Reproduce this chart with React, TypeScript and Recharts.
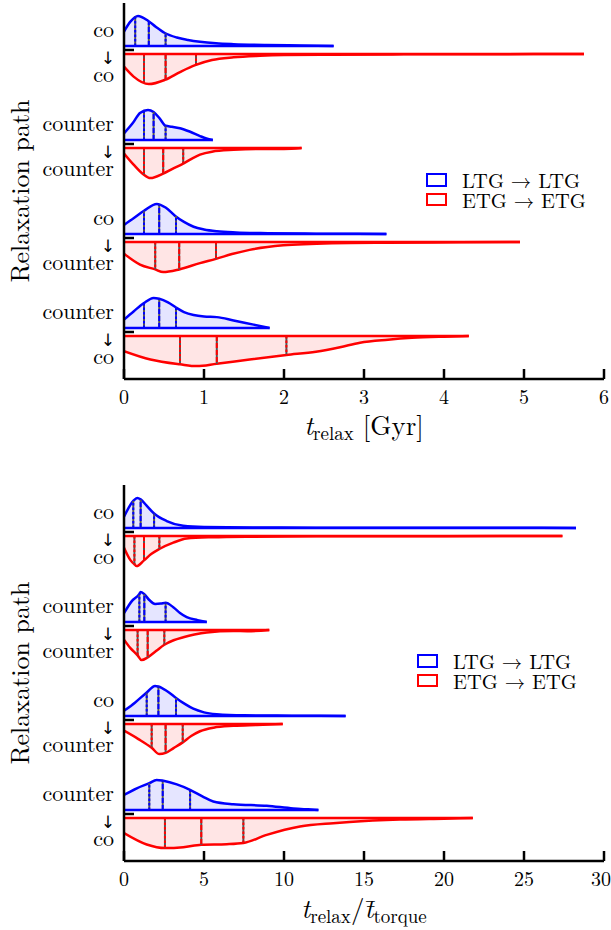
import React from "react";
import { ComposedChart, Area, XAxis, YAxis, ReferenceLine, Legend } from "recharts";

// relaxation paths (from, to), top row first
const paths = [
  ["co", "co"],
  ["counter", "counter"],
  ["co", "counter"],
  ["counter", "co"],
];
const rowTicks = [0, 1, 2, 3];
const gyrTicks = [0, 1, 2, 3, 4, 5, 6];
const ratioTicks = [0, 5, 10, 15, 20, 25, 30];

// top panel: t_relax [Gyr], relative density (peak = 1) per row
const gyrLtgT = [
  [0, 0.08, 0.175, 0.3, 0.4, 0.51, 0.66, 0.8, 0.95, 1.15, 1.37, 1.78, 2.2, 2.62],
  [0, 0.11, 0.2, 0.3, 0.37, 0.45, 0.52, 0.6, 0.7, 0.82, 0.95, 1.03, 1.11],
  [0, 0.12, 0.25, 0.41, 0.52, 0.64, 0.75, 0.87, 1.0, 1.16, 1.4, 1.8, 2.4, 3.28],
  [0, 0.12, 0.25, 0.37, 0.44, 0.55, 0.65, 0.75, 0.87, 1.0, 1.16, 1.37, 1.62, 1.82],
];
const gyrLtgD = [
  [0.48, 0.81, 1.0, 0.84, 0.63, 0.43, 0.28, 0.2, 0.14, 0.09, 0.06, 0.03, 0.015, 0],
  [0.22, 0.56, 0.9, 1.0, 0.93, 0.7, 0.47, 0.44, 0.39, 0.28, 0.13, 0.05, 0],
  [0.3, 0.52, 0.77, 1.0, 0.88, 0.6, 0.4, 0.24, 0.15, 0.09, 0.05, 0.025, 0.01, 0],
  [0.28, 0.55, 0.83, 1.0, 0.97, 0.85, 0.68, 0.53, 0.43, 0.38, 0.36, 0.25, 0.11, 0],
];
const gyrEtgT = [
  [0, 0.12, 0.31, 0.51, 0.7, 0.89, 1.1, 1.37, 1.7, 2.0, 2.6, 3.5, 4.5, 5.75],
  [0, 0.12, 0.24, 0.33, 0.49, 0.6, 0.74, 0.85, 0.95, 1.1, 1.37, 1.7, 2.0, 2.22],
  [0, 0.2, 0.39, 0.49, 0.69, 0.95, 1.15, 1.35, 1.57, 1.99, 2.6, 3.3, 4.2, 4.95],
  [0, 0.33, 0.7, 0.91, 1.16, 1.57, 2.03, 2.4, 2.7, 2.95, 3.3, 3.6, 4.0, 4.31],
];
const gyrEtgD = [
  [0.42, 0.75, 1.0, 0.86, 0.6, 0.37, 0.2, 0.11, 0.06, 0.035, 0.02, 0.01, 0.005, 0],
  [0.18, 0.55, 0.87, 1.0, 0.85, 0.7, 0.52, 0.35, 0.22, 0.12, 0.06, 0.03, 0.03, 0],
  [0.39, 0.75, 0.91, 1.0, 0.91, 0.7, 0.56, 0.4, 0.26, 0.11, 0.04, 0.02, 0.01, 0],
  [0.5, 0.78, 0.94, 1.0, 0.92, 0.78, 0.63, 0.52, 0.37, 0.22, 0.12, 0.06, 0.02, 0],
];
// quartiles [value, density there]
const gyrLtgQ = [
  [[0.14, 0.98], [0.31, 0.83], [0.52, 0.42]],
  [[0.25, 0.97], [0.37, 0.93], [0.52, 0.47]],
  [[0.25, 0.77], [0.44, 0.98], [0.65, 0.6]],
  [[0.25, 0.83], [0.44, 0.97], [0.65, 0.68]],
];
const gyrEtgQ = [
  [[0.25, 0.95], [0.52, 0.85], [0.9, 0.37]],
  [[0.25, 0.87], [0.49, 0.85], [0.74, 0.52]],
  [[0.39, 0.91], [0.69, 0.91], [1.15, 0.56]],
  [[0.7, 0.94], [1.16, 0.92], [2.03, 0.63]],
];

// bottom panel: t_relax / mean t_torque
const ratioLtgT = [
  [0, 0.58, 0.83, 1.04, 1.4, 1.88, 2.67, 3.7, 5, 8, 12, 18, 24, 28.25],
  [0, 0.5, 0.96, 1.04, 1.27, 1.6, 1.94, 2.3, 2.6, 3.08, 3.5, 3.92, 4.6, 5.17],
  [0, 0.7, 1.42, 1.94, 2.15, 2.7, 3.25, 3.8, 4.33, 5.0, 5.79, 7.5, 10.5, 13.85],
  [0, 0.8, 1.58, 2.04, 2.46, 3.3, 4.13, 4.9, 5.58, 6.83, 8.92, 10.58, 11.5, 12.15],
];
const ratioLtgD = [
  [0.37, 0.9, 1.0, 0.95, 0.75, 0.48, 0.23, 0.07, 0.03, 0.015, 0.01, 0.008, 0.005, 0],
  [0.29, 0.7, 0.93, 1.0, 0.92, 0.72, 0.6, 0.61, 0.64, 0.49, 0.3, 0.16, 0.06, 0],
  [0.17, 0.45, 0.78, 1.0, 0.98, 0.82, 0.6, 0.4, 0.24, 0.12, 0.06, 0.02, 0.01, 0],
  [0.5, 0.72, 0.89, 1.0, 0.97, 0.85, 0.67, 0.45, 0.28, 0.19, 0.14, 0.05, 0.02, 0],
];
const ratioEtgT = [
  [0, 0.4, 0.65, 0.79, 1.25, 1.7, 2.21, 3.08, 3.92, 5.5, 8, 12, 20, 27.4],
  [0, 0.4, 0.85, 1.1, 1.48, 2.0, 2.52, 3.1, 3.71, 4.4, 5.17, 6.83, 7.7, 9.08],
  [0, 0.9, 1.73, 2.21, 2.6, 3.1, 3.67, 4.2, 4.75, 5.6, 6.83, 8.3, 9.92],
  [0, 1.42, 2.56, 3.71, 4.83, 6.42, 7.46, 8.92, 11.0, 13.08, 14.1, 17.25, 20, 21.8],
];
const ratioEtgD = [
  [0.39, 0.8, 0.94, 1.0, 0.81, 0.6, 0.43, 0.22, 0.08, 0.04, 0.02, 0.01, 0.005, 0],
  [0.32, 0.6, 0.84, 1.0, 0.91, 0.7, 0.49, 0.34, 0.24, 0.15, 0.08, 0.03, 0.04, 0],
  [0.22, 0.5, 0.79, 1.0, 0.96, 0.8, 0.61, 0.4, 0.24, 0.12, 0.06, 0.03, 0],
  [0.5, 0.88, 1.0, 0.97, 0.89, 0.87, 0.83, 0.56, 0.28, 0.17, 0.13, 0.05, 0.02, 0],
];
const ratioLtgQ = [
  [[0.58, 0.9], [1.04, 0.95], [1.88, 0.48]],
  [[0.96, 0.93], [1.27, 0.92], [2.6, 0.64]],
  [[1.42, 0.78], [2.15, 0.98], [3.25, 0.6]],
  [[1.58, 0.89], [2.42, 0.97], [4.13, 0.67]],
];
const ratioEtgQ = [
  [[0.65, 0.94], [1.25, 0.81], [2.21, 0.43]],
  [[0.85, 0.84], [1.48, 0.91], [2.52, 0.49]],
  [[1.73, 0.79], [2.6, 0.96], [3.67, 0.61]],
  [[2.56, 1.0], [4.83, 0.89], [7.46, 0.83]],
];

const BLUE = "#0000ff";
const RED = "#ff0000";
const FONT = "Latin Modern Roman";
const ARROW_FONT = "DejaVu Sans";
const GAP = 0.043; // gap between the two halves, in row units
const AMP = 0.32; // half-violin height at peak density

const legendItems = [
  { label: "LTG → LTG", color: BLUE },
  { label: "ETG → ETG", color: RED },
];

// side -1: upper half (LTG), +1: lower half (ETG); y axis is reversed
function halfViolin(ts: number[], ds: number[], row: number, side: number) {
  return ts.map((t, i) => ({ x: t, band: [row + side * GAP, row + side * (GAP + ds[i] * AMP)] }));
}

function PathTick({ x, y, payload }: any) {
  const [from, to] = paths[payload.value];
  return (
    <text fontFamily={FONT} fontSize={22} textAnchor="end" fill="#000">
      <tspan x={x} y={y - 13}>{from}</tspan>
      <tspan x={x + 1} y={y + 14} fontFamily={ARROW_FONT} fontSize={17}>↓</tspan>
      <tspan x={x} y={y + 32}>{to}</tspan>
    </text>
  );
}

function LegendBox() {
  return (
    <div style={{ fontFamily: FONT, fontSize: 20.5, color: "#000" }}>
      {legendItems.map((it) => (
        <div key={it.label} style={{ display: "flex", alignItems: "center", height: 19.5 }}>
          <span style={{ width: 17, height: 9.5, border: `2.5px solid ${it.color}`, marginRight: 15 }} />
          <span style={{ lineHeight: "19px" }}>{it.label}</span>
        </div>
      ))}
    </div>
  );
}

function QuartileLines({ qs, side, color }: any) {
  return qs.flatMap((rowQ: number[][], row: number) =>
    rowQ.flatMap(([q, d], k) => {
      const seg = [
        { x: q, y: row + side * GAP },
        { x: q, y: row + side * (GAP + d * AMP) },
      ];
      return [
        <ReferenceLine key={`g${side}${row}${k}`} segment={seg} stroke="#555555" strokeWidth={2} ifOverflow="visible" />,
        <ReferenceLine
          key={`c${side}${row}${k}`}
          segment={seg}
          stroke={color}
          strokeWidth={2}
          strokeDasharray={k === 1 ? "5 2" : "2.5 2"}
          ifOverflow="visible"
        />,
      ];
    })
  );
}

const axisStroke = { stroke: "#000", strokeWidth: 2.5 };

function ViolinPanel({ height, top, xMax, xTicks, ltgT, ltgD, etgT, etgD, ltgQ, etgQ, title, legendPos }: any) {
  return (
    <ComposedChart width={611} height={height} margin={{ top, right: 7, left: 0, bottom: 0 }}>
      <XAxis
        dataKey="x"
        type="number"
        domain={[0, xMax]}
        ticks={xTicks}
        allowDataOverflow
        height={height - top - 376}
        axisLine={axisStroke}
        tickLine={axisStroke}
        tickSize={-10}
        tickMargin={21}
        tick={{ fill: "#000", fontSize: 20, fontFamily: FONT }}
      />
      <XAxis
        xAxisId="top"
        orientation="top"
        type="number"
        domain={[0, xMax]}
        ticks={xTicks}
        height={0}
        axisLine={axisStroke}
        tickLine={axisStroke}
        tickSize={-10}
        tick={false}
      />
      <YAxis
        type="number"
        domain={[-0.5, 3.5]}
        reversed
        ticks={rowTicks}
        width={124}
        axisLine={axisStroke}
        tickLine={axisStroke}
        tickSize={-10}
        tickMargin={20}
        tick={<PathTick />}
      />
      <YAxis
        yAxisId="right"
        orientation="right"
        type="number"
        domain={[-0.5, 3.5]}
        reversed
        ticks={rowTicks}
        width={0}
        axisLine={axisStroke}
        tickLine={axisStroke}
        tickSize={-10}
        tick={false}
      />
      {ltgT.map((ts: number[], row: number) => (
        <Area
          key={`ltg${row}`}
          data={halfViolin(ts, ltgD[row], row, -1)}
          dataKey="band"
          type="monotone"
          stroke={BLUE}
          strokeWidth={2.5}
          fill={BLUE}
          fillOpacity={0.1}
          isAnimationActive={false}
        />
      ))}
      {etgT.map((ts: number[], row: number) => (
        <Area
          key={`etg${row}`}
          data={halfViolin(ts, etgD[row], row, 1)}
          dataKey="band"
          type="monotone"
          stroke={RED}
          strokeWidth={2.5}
          fill={RED}
          fillOpacity={0.1}
          isAnimationActive={false}
        />
      ))}
      {QuartileLines({ qs: ltgQ, side: -1, color: BLUE })}
      {QuartileLines({ qs: etgQ, side: 1, color: RED })}
      <Legend
        layout="vertical"
        align="center"
        verticalAlign="middle"
        content={<LegendBox />}
        wrapperStyle={{ left: legendPos[0], top: legendPos[1], width: 190 }}
      />
      <text
        x={0}
        y={0}
        transform={`translate(29 ${top + 188}) rotate(-90)`}
        textAnchor="middle"
        fontFamily={FONT}
        fontSize={26}
        fill="#000"
      >
        Relaxation path
      </text>
      {title}
    </ComposedChart>
  );
}

export default function App() {
  return (
    <div style={{ position: "absolute", left: 0, top: 0, width: 611, height: 930, background: "#fff", fontFamily: FONT }}>
      <ViolinPanel
        height={450}
        top={3}
        xMax={6}
        xTicks={gyrTicks}
        ltgT={gyrLtgT}
        ltgD={gyrLtgD}
        etgT={gyrEtgT}
        etgD={gyrEtgD}
        ltgQ={gyrLtgQ}
        etgQ={gyrEtgQ}
        legendPos={[426, 170]}
        title={
          <text x={364} y={435} textAnchor="middle" fontFamily={FONT} fontSize={27} fill="#000">
            <tspan fontStyle="italic">t</tspan>
            <tspan fontSize={19} dy={5}>relax</tspan>
            <tspan dy={-5}> [Gyr]</tspan>
          </text>
        }
      />
      <ViolinPanel
        height={480}
        top={35}
        xMax={30}
        xTicks={ratioTicks}
        ltgT={ratioLtgT}
        ltgD={ratioLtgD}
        etgT={ratioEtgT}
        etgD={ratioEtgD}
        ltgQ={ratioLtgQ}
        etgQ={ratioEtgQ}
        legendPos={[417, 201]}
        title={
          <text x={364} y={468} textAnchor="middle" fontFamily={FONT} fontSize={27} fill="#000">
            <tspan fontStyle="italic">t</tspan>
            <tspan fontSize={19} dy={5}>relax</tspan>
            <tspan dy={-5}>/</tspan>
            <tspan fontStyle="italic">{"t\u0304"}</tspan>
            <tspan fontSize={19} dy={5}>torque</tspan>
          </text>
        }
      />
    </div>
  );
}
